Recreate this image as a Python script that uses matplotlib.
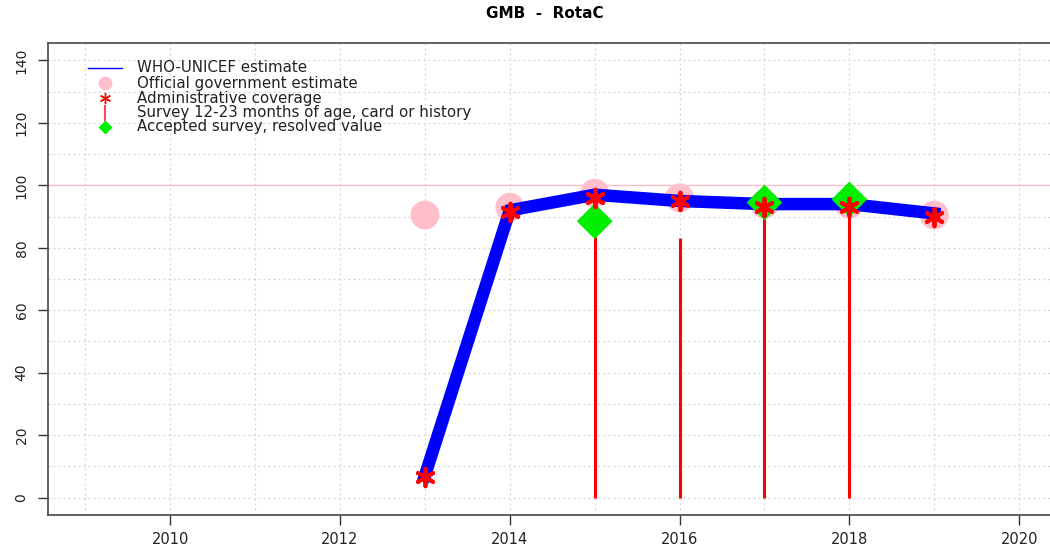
import matplotlib
matplotlib.use("Agg")
import matplotlib.pyplot as plt
from matplotlib.lines import Line2D

plt.rcParams["font.family"] = ["DejaVu Sans"]

# WHO-UNICEF estimate
wuenic_years = [2013, 2014, 2015, 2016, 2017, 2018, 2019]
wuenic_vals = [7, 92, 97, 95, 94, 94, 91]

# Official government estimate
gov_years = [2013, 2014, 2015, 2016, 2017, 2018, 2019]
gov_vals = [90.5, 93, 97.5, 96, 94, 94, 90.5]

# Administrative coverage
admin_years = [2013, 2014, 2015, 2016, 2017, 2018, 2019]
admin_vals = [6.5, 91.5, 96, 95, 93, 93, 90]

# Survey 12-23 months, card or history
survey_years = [2015, 2016, 2017, 2018]
survey_vals = [88, 83, 95, 95]

# Accepted survey, resolved value
accepted_years = [2015, 2017, 2018]
accepted_vals = [88.5, 94.5, 95.5]

xticks = [2010, 2012, 2014, 2016, 2018, 2020]
yticks = [0, 20, 40, 60, 80, 100, 120, 140]

legend_labels = [
    "WHO-UNICEF estimate",
    "Official government estimate",
    "Administrative coverage",
    "Survey 12-23 months of age, card or history",
    "Accepted survey, resolved value",
]

W, H = 1050, 548
fig = plt.figure(figsize=(W / 100, H / 100), dpi=100)
ax = fig.add_axes([48 / W, 33 / H, 1008.5 / W, 472 / H])

ax.set_xlim(2008.56, 2020.44)
ax.set_ylim(-5.6, 145.6)

# dotted grid, every year / every 10
grid_kw = dict(color="#d3d3d3", ls=(0, (1.5, 2.5)), lw=0.9, zorder=0)
for yr in range(2009, 2021):
    ax.axvline(yr, **grid_kw)
for v in range(0, 150, 10):
    ax.axhline(v, **grid_kw)
ax.axhline(100, color="#ffc0cb", lw=1.0, zorder=0.5)

ax.plot(wuenic_years, wuenic_vals, color="blue", lw=9, zorder=2,
        solid_joinstyle="miter")
ax.scatter(gov_years, gov_vals, s=430, color="pink", marker="o",
           edgecolors="none", zorder=1)
ax.vlines(survey_years, 0, survey_vals, color="red", lw=2.2, zorder=3)
ax.scatter(accepted_years, accepted_vals, s=330, color="#00ee00", marker="D",
           edgecolors="none", zorder=3)
ax.scatter(admin_years, admin_vals, s=160, color="red", marker=(6, 2, 0),
           linewidths=2.8, zorder=4)

ax.set_xticks(xticks)
ax.set_xticklabels([str(x) for x in xticks], fontsize=10.5, color="#222222")
ax.set_yticks(yticks)
ax.set_yticklabels([str(y) for y in yticks], fontsize=10, rotation=90,
                   va="center", color="#222222")
ax.tick_params(axis="both", direction="out", length=7, width=1, color="#333333")
ax.tick_params(axis="x", pad=5)
ax.tick_params(axis="y", pad=7)
for s in ax.spines.values():
    s.set_color("#555555")
    s.set_linewidth(1.3)

# legend, drawn by hand to match the R layout
row_y = [68, 83, 98, 112.5, 127]
hx = 105 / W
handles = [
    Line2D([88 / W, 122 / W], [1 - row_y[0] / H] * 2, color="blue", lw=1),
    Line2D([hx], [1 - row_y[1] / H], color="pink", marker="o", markersize=10,
           mec="none"),
    Line2D([hx], [1 - row_y[2] / H], color="red", marker=(6, 2, 0),
           markersize=8, mew=1),
    Line2D([hx], [1 - row_y[3] / H], color="#ff4466", marker="|",
           markersize=11, mew=1.5),
    Line2D([hx], [1 - row_y[4] / H], color="#00ee00", marker="D",
           markersize=7, mec="none"),
]
for h in handles:
    h.set_transform(fig.transFigure)
    fig.add_artist(h)
for y, lab in zip(row_y, legend_labels):
    fig.text(137 / W, 1 - y / H, lab, ha="left", va="center", fontsize=10.8,
             color="#222222")

fig.text(545 / W, 1 - 14 / H, "GMB  -  RotaC", ha="center", va="center",
         fontsize=11, fontweight="bold")

fig.savefig("out.png", dpi=100)
